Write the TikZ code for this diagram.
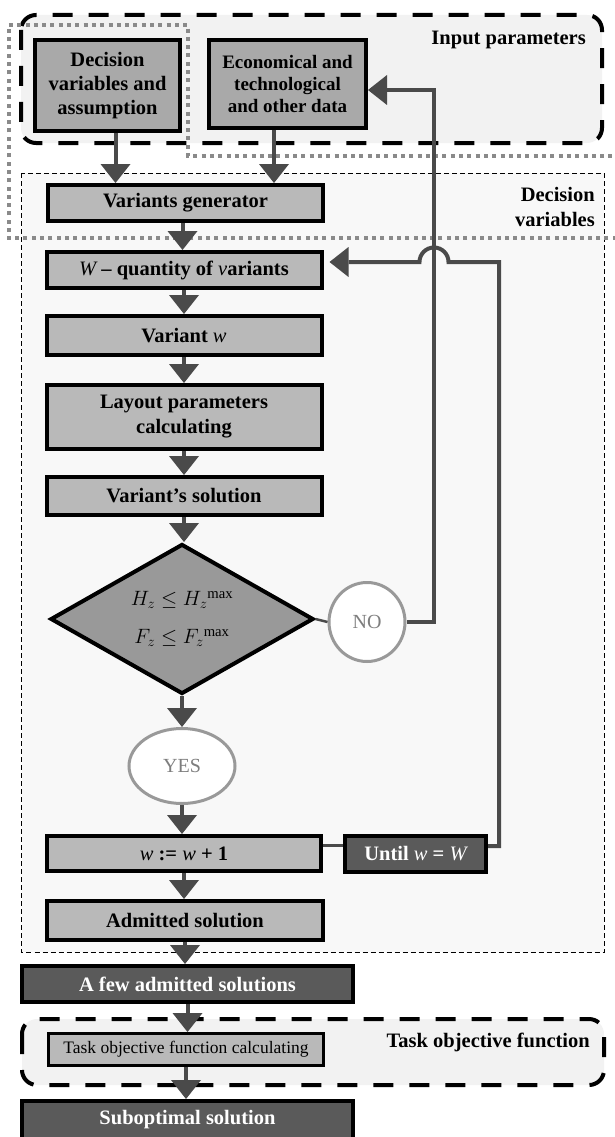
\documentclass[tikz,border=0pt]{standalone}
\usepackage{fontspec}
\setmainfont{Liberation Serif}
\usetikzlibrary{arrows.meta,shapes.geometric,calc}
\definecolor{arrc}{HTML}{4A4A4A}
\definecolor{boxl}{HTML}{B9B9B9}
\definecolor{boxm}{HTML}{A9A9A9}
\definecolor{boxd}{HTML}{5A5A5A}
\definecolor{diac}{HTML}{999999}
\definecolor{bgA}{HTML}{F2F2F2}
\definecolor{bgB}{HTML}{F8F8F8}
\definecolor{dotc}{HTML}{8A8A8A}
\definecolor{ringc}{HTML}{999999}
\definecolor{ringt}{HTML}{7E7E7E}
\tikzset{
 base/.style={draw=black, line width=4pt, inner sep=0pt, align=center, font=\fontsize{20.5}{24}\selectfont\bfseries},
 lbox/.style={base, fill=boxl},
 mbox/.style={base, fill=boxm},
 dbox/.style={base, fill=boxd, text=white},
 arr/.style={draw=arrc, line width=4pt, -{Triangle[width=30pt,length=19pt,line width=0pt]}},
 conn/.style={draw=arrc, line width=2.5pt},
 ring/.style={ellipse, draw=ringc, line width=3pt, fill=white, inner sep=0pt, text=ringt, font=\fontsize{20}{22}\selectfont},
 thickdash/.style={draw=black, line width=4pt, dash pattern=on 20pt off 16pt, rounded corners=15pt},
 thindash/.style={draw=black, line width=1pt, dash pattern=on 5pt off 3pt},
 dotline/.style={draw=dotc, line width=4pt, dash pattern=on 4pt off 4.3pt},
 lbl/.style={font=\fontsize{20.5}{25}\selectfont\bfseries, align=right, inner sep=0pt},
}
\begin{document}
\begin{tikzpicture}[x=1pt,y=-1pt]
\useasboundingbox (0,0) rectangle (615,1137);
% regions
\draw[thickdash, fill=bgA] (21,15) rectangle (602,143);
\draw[thindash, fill=bgB] (21.5,173) rectangle (604,952);
\draw[thickdash, fill=bgA] (22,1019) rectangle (604,1085);
\draw[dotline] (625,238) -- (8.5,238) -- (8.5,25) -- (188,25) -- (188,156) -- (625,156);
% labels
\node[lbl, anchor=east] (lin) at (586,40) {Input parameters};
\node[lbl, anchor=east] (ldv) at (595,207) {Decision\\variables};
\node[lbl, anchor=east] (ltf) at (590,1042) {Task objective function};
% boxes
\node[mbox, minimum width=145pt, minimum height=91pt] (dva) at (107.5,85.5) {Decision\\variables and\\assumption};
\node[mbox, minimum width=157pt, minimum height=88pt, font=\fontsize{19}{22}\selectfont\bfseries] (eco) at (287.5,84) {Economical and\\technological\\and other data};
\node[lbox, minimum width=275pt, minimum height=36pt] (vg) at (185.5,203) {Variants generator};
\node[lbox, minimum width=275pt, minimum height=36pt] (wq) at (184,270) {{\mdseries\itshape W} – quantity of {\mdseries\itshape v}ariants};
\node[lbox, minimum width=275pt, minimum height=39pt] (vw) at (184,335.5) {Variant {\mdseries\itshape w}};
\node[lbox, minimum width=275pt, minimum height=64pt, font=\fontsize{20.5}{25}\selectfont\bfseries] (lp) at (184,417) {Layout parameters\\calculating};
\node[lbox, minimum width=275pt, minimum height=38pt] (vs) at (184,496) {Variant’s solution};
\node[diamond, aspect=1.8, draw=black, line width=4pt, fill=diac, inner sep=0pt, minimum width=263pt, minimum height=150pt, font=\fontsize{21}{38}\selectfont, align=center] (dia) at (182,619) {$H_z \le H_z{}^{\max}$\\$F_z \le F_z{}^{\max}$};
\node[ring, minimum width=76pt, minimum height=79pt] (no) at (367,622) {NO};
\node[ring, minimum width=106pt, minimum height=75pt] (yes) at (182,766) {YES};
\node[lbox, minimum width=274pt, minimum height=35pt] (ww) at (184,853.5) {{\mdseries\itshape w} := {\mdseries\itshape w} + 1};
\node[dbox, minimum width=141pt, minimum height=36pt] (until) at (415.5,854) {Until {\mdseries\itshape w} = {\mdseries\itshape W}};
\node[lbox, minimum width=276pt, minimum height=39pt] (adm) at (185,920.5) {Admitted solution};
\node[dbox, minimum width=331pt, minimum height=36pt] (few) at (187.5,984) {A few admitted solutions};
\node[lbox, line width=3pt, minimum width=275pt, minimum height=32pt, font=\fontsize{17.5}{18}\selectfont] (tofc) at (186,1049.5) {Task objective function calculating};
\node[dbox, minimum width=331pt, minimum height=38pt] (sub) at (187.5,1120) {Suboptimal solution};
% arrows
\draw[arr] ([xshift=8pt]dva.south) -- ([xshift=8pt]dva.south |- vg.north);
\draw[arr] ([xshift=-13.5pt]eco.south) -- ([xshift=-13.5pt]eco.south |- vg.north);
\draw[arr] ([xshift=-3pt]vg.south) -- ([xshift=-3pt]vg.south |- wq.north);
\draw[arr] (wq.south) -- (wq.south |- vw.north);
\draw[arr] (vw.south) -- (vw.south |- lp.north);
\draw[arr] (lp.south) -- (lp.south |- vs.north);
\draw[arr] (vs.south) -- (vs.south |- dia.north);
\draw[arr] (dia.south) -- (dia.south |- yes.north);
\draw[arr] (yes.south) -- (yes.south |- ww.north);
\draw[arr] (ww.south) -- (ww.south |- adm.north);
\draw[arr] (adm.south) -- (adm.south |- few.north);
\draw[arr] (few.south) -- (few.south |- tofc.north);
\draw[arr] (tofc.south) -- (tofc.south |- sub.north);
% feedback
\draw[conn] (dia.east) -- (no.west);
\coordinate (vl) at (434,90);
\draw[arr] (no.east) -| (vl) -- (eco.east |- vl);
\coordinate (rt) at (499,262);
\coordinate (jr) at (448.5,262);
\draw[arr, shorten >=6pt] ([yshift=8pt]until.east) -| (rt) -- (jr) arc[start angle=0, end angle=-180, radius=14.5] -- (wq.east |- rt);
\draw[conn] ([yshift=8pt]ww.east) -- ([yshift=8pt]ww.east -| until.west);
\end{tikzpicture}
\end{document}
